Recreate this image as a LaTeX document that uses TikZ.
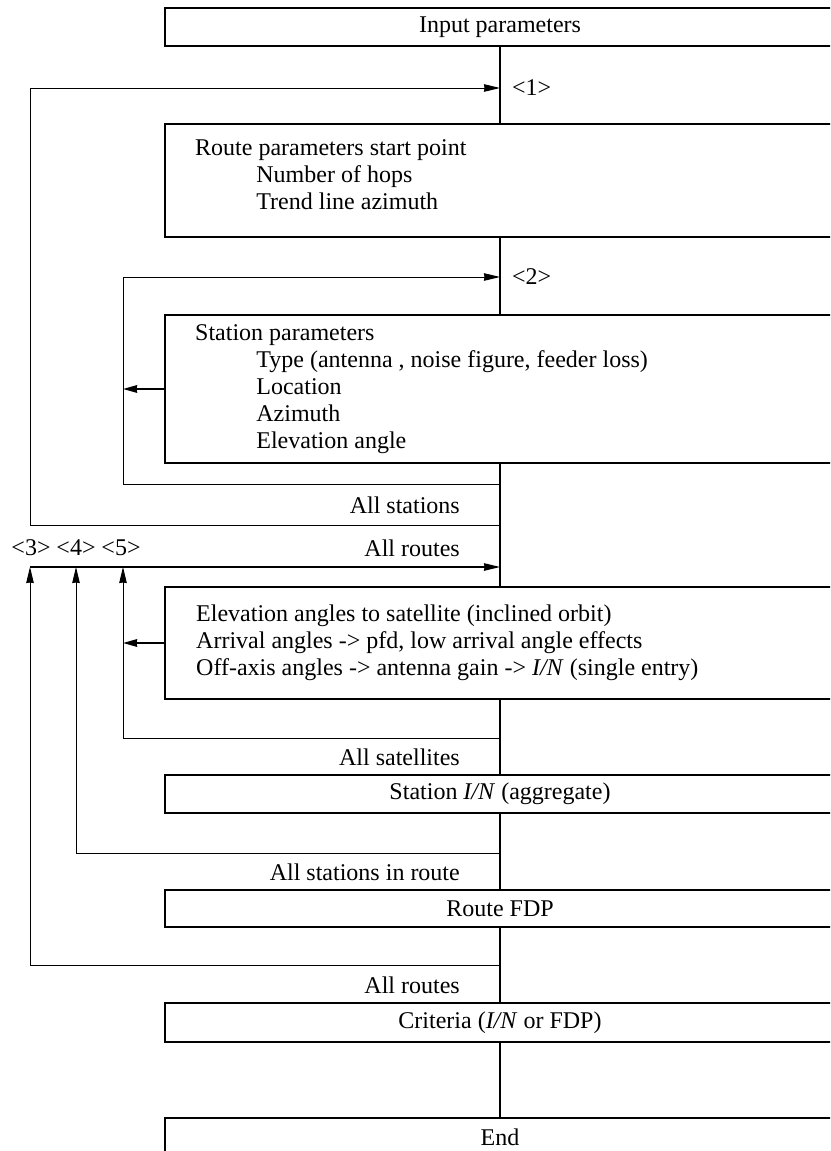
\documentclass[tikz,border=0pt]{standalone}
\usepackage{fontspec}
\setmainfont{Liberation Serif}
\usetikzlibrary{arrows.meta}
\begin{document}
\begin{tikzpicture}[x=1pt,y=-1pt,
  font=\fontsize{24}{27}\selectfont,
  box/.style={draw,line width=1.6pt,fill=white,rectangle,minimum width=670pt,inner sep=0pt},
  txt/.style={inner sep=0pt,align=left,anchor=west},
  lbl/.style={inner sep=0pt,anchor=east},
  flow/.style={line width=1.2pt},
  loopline/.style={line width=1pt},
  tip/.style={-{Stealth[length=16pt,width=7.5pt,inset=0.5pt]}},
  outarrow/.style={line width=2pt,-{Stealth[length=14pt,width=7.5pt,inset=0.5pt]}}
]
\useasboundingbox (0,0) rectangle (830,1151);
\clip (0,0) rectangle (830,1151);
\fill[white] (0,0) rectangle (830,1151);

% coordinates on main line and left loop corners
\coordinate (j1) at (500,88);
\coordinate (j2) at (500,277);
\coordinate (j3) at (500,567);
\coordinate (r2) at (500,484);
\coordinate (r1) at (500,525);
\coordinate (r5) at (500,738);
\coordinate (r4) at (500,853);
\coordinate (r3) at (500,965);
\coordinate (l1) at (30,88);
\coordinate (l2) at (123,277);
\coordinate (l3) at (30,567);
\coordinate (l4) at (76,567);
\coordinate (l5) at (123,567);

% main flow line (drawn first, boxes on top)
\draw[flow] (500,46) -- (500,1119);

% boxes
\node[box,minimum height=38pt] (inp) at (500,27) {Input parameters};
\node[box,minimum height=113pt] (route) at (500,180.5) {};
\node[box,minimum height=148pt] (stat) at (500,389) {};
\node[box,minimum height=112pt] (sat) at (500,643) {};
\node[box,minimum height=38pt] (sin) at (500,794) {Station \textit{I/N} (aggregate)};
\node[box,minimum height=37pt] (fdp) at (500,908.5) {Route FDP};
\node[box,minimum height=39pt] (crit) at (500,1022.5) {Criteria (\textit{I/N} or FDP)};
\node[box,minimum height=38pt] (end) at (500,1137) {End};

% box texts
\node[txt] (routetxt) at (195,175) {Route parameters start point\\
  \hspace*{2.55em}Number of hops\\
  \hspace*{2.55em}Trend line azimuth};
\node[txt] (stattxt) at (195,389) {Station parameters\\
  \hspace*{2.55em}Type (antenna , noise figure, feeder loss)\\
  \hspace*{2.55em}Location\\
  \hspace*{2.55em}Azimuth\\
  \hspace*{2.55em}Elevation angle};
\node[txt] (sattxt) at (196,643) {Elevation angles to satellite (inclined orbit)\\
  Arrival angles -> pfd, low arrival angle effects\\
  Off-axis angles -> antenna gain -> \textit{I/N} (single entry)};

% main connectors between boxes
\draw[flow] (inp.south) -- (route.north);
\draw[flow] (route.south) -- (stat.north);
\draw[flow] (stat.south) -- (sat.north);
\draw[flow] (sat.south) -- (sin.north);
\draw[flow] (sin.south) -- (fdp.north);
\draw[flow] (fdp.south) -- (crit.north);
\draw[flow] (crit.south) -- (end.north);

% loops
\draw[loopline,tip] (r1) -| (l1) -- (j1);
\draw[loopline,tip] (r2) -| (l2) -- (j2);
\draw[loopline,tip] (r3) -| (l3);
\draw[loopline,tip] (r4) -| (l4);
\draw[loopline,tip] (r5) -| (l5);
\draw[flow,tip] (l3) -- (j3);

% arrows out of boxes
\draw[outarrow] (stat.west) -- (stat.west -| l2);
\draw[outarrow] (sat.west) -- (sat.west -| l5);

% labels
\node[inner sep=0pt,anchor=west] (n1) at (512,88) {<1>};
\node[inner sep=0pt,anchor=west] (n2) at (512,277) {<2>};
\node[inner sep=0pt] (n3) at (31,548) {<3>};
\node[inner sep=0pt] (n4) at (76,548) {<4>};
\node[inner sep=0pt] (n5) at (121,548) {<5>};
\node[lbl] (a1) at (460,505) {All stations};
\node[lbl] (a2) at (460,548) {All routes};
\node[lbl] (a3) at (460,757) {All satellites};
\node[lbl] (a4) at (460,872) {All stations in route};
\node[lbl] (a5) at (460,985) {All routes};
\end{tikzpicture}
\end{document}
